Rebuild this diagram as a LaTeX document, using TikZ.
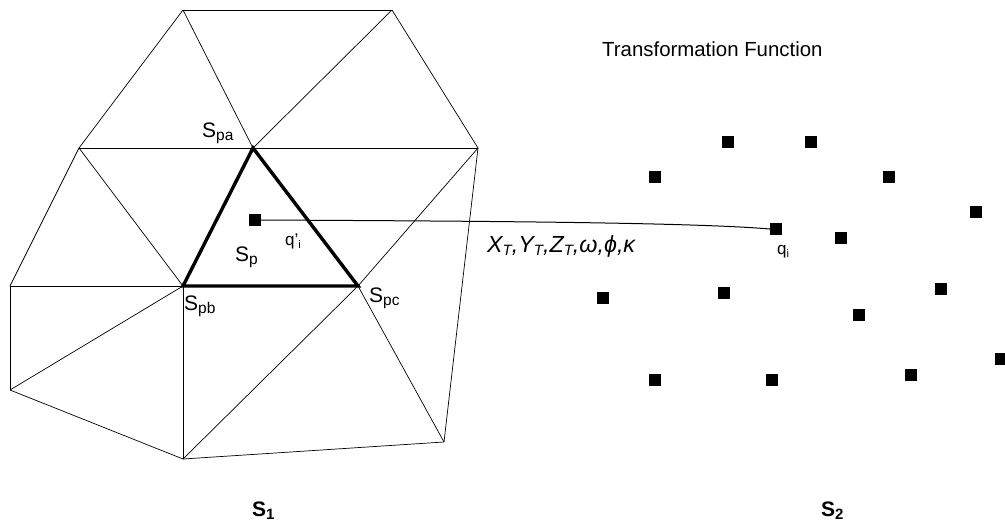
\documentclass[tikz,border=0pt]{standalone}
\usepackage{fontspec}
\setmainfont{Liberation Sans}
\newcommand\lowered[3]{\raisebox{-#1pt}{\fontsize{#2}{#2}\selectfont #3}}
\begin{document}
\begin{tikzpicture}[x=1pt,y=-1pt,
  mesh/.style={line width=0.7pt,line join=round},
  heavy/.style={line width=3.4pt,line join=miter,line cap=round},
  pt/.style={fill=black,inner sep=0pt,minimum size=12pt,rectangle},
  lab/.style={inner sep=0pt,font=\fontsize{21}{24}\selectfont,anchor=base west},
  sm/.style={inner sep=0pt,font=\fontsize{17}{20}\selectfont,anchor=base west},
  title/.style={inner sep=0pt,font=\fontsize{20.4}{24}\selectfont,anchor=base west},
  sb/.style={inner sep=0pt,font=\fontsize{21}{24}\selectfont\bfseries,anchor=base west}]
\useasboundingbox (0,0) rectangle (1005,523);
\foreach \n/\x/\y in {a/183/10,b/392/10,c/79/148,d/253/148,e/478/148,f/10/286,g/183/286,h/358/286,i/10/390,j/183/459,k/444/442}
  \coordinate (\n) at (\x,\y);
\foreach \p/\q in {a/b,a/c,a/d,b/d,b/e,c/d,d/e,c/f,c/g,e/h,e/k,f/g,f/i,i/g,i/j,g/j,j/h,h/k,j/k}
  \draw[mesh] (\p) -- (\q);
\draw[heavy] (d) -- (g) -- (h) -- cycle;
\foreach \n/\x/\y in {qp/255/220,q/776/229,p1/728/142,p2/811/142,p3/655/177,p4/889/177,p5/976/212,p6/841/238,p7/603/298,p8/724/293,p9/941/289,p10/859/315,p11/655/380,p12/772/380,p13/911/375,p14/1001/359}
  \node[pt] (\n) at (\x,\y) {};
\draw[line width=1pt] (qp.east) .. controls (450,221) and (690,222) .. (q.west);
\node[lab] (spa) at (202,137) {S\lowered{3.5}{15.5}{pa}};
\node[lab] (sp) at (235,261) {S\lowered{3.5}{15.5}{p}};
\node[lab] (spb) at (184,310) {S\lowered{3.5}{15.5}{pb}};
\node[lab] (spc) at (369,302) {S\lowered{3.5}{15.5}{pc}};
\node[sm] (qpl) at (285,245) {q'\lowered{3}{11}{i}};
\node[sm] (ql) at (777,254) {q\lowered{3}{11}{i}};
\node[title] (tf) at (602,56) {Transformation Function};
\node[inner sep=0pt,anchor=base west,font=\fontsize{23.3}{26}\selectfont\itshape] (par) at (487,252)
  {X\lowered{3}{15}{T},Y\lowered{3}{15}{T},Z\lowered{3}{15}{T},ω,ϕ,κ};
\node[sb] (s1) at (252,516) {S\lowered{3.5}{15}{1}};
\node[sb] (s2) at (821,516) {S\lowered{3.5}{15}{2}};
\end{tikzpicture}
\end{document}
